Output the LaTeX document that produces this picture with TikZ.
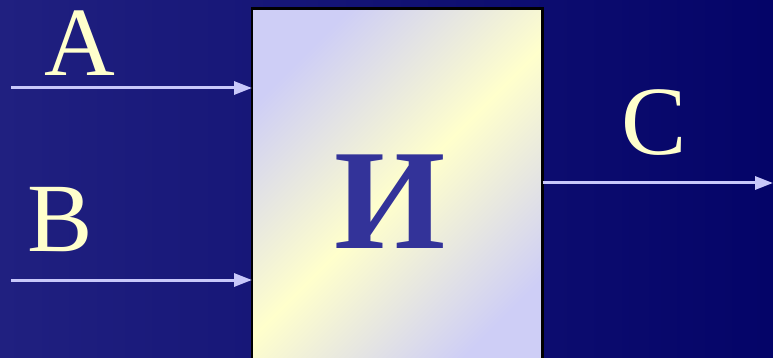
\documentclass[tikz,border=0pt]{standalone}
\usepackage{fontspec}
\setmainfont{Liberation Serif}
\usetikzlibrary{arrows.meta}
\definecolor{bgl}{RGB}{32,32,128}
\definecolor{bgr}{RGB}{4,4,104}
\definecolor{lav}{RGB}{206,206,246}
\definecolor{pale}{RGB}{255,255,204}
\definecolor{ink}{RGB}{51,51,153}
\definecolor{wire}{RGB}{200,200,250}
\pgfdeclarehorizontalshading{gateshade}{100bp}{%
  color(0bp)=(lav); color(25bp)=(lav); color(50bp)=(pale); color(75bp)=(lav); color(100bp)=(lav)}
\tikzset{
  lbl/.style={text=pale, inner sep=0pt, anchor=base, font=\fontsize{98}{100}\selectfont},
  wirearrow/.style={draw=wire, line width=3pt, -{Triangle[length=18pt,width=13pt]}},
  gatebox/.style={draw=black, line width=2.5pt, anchor=north west, minimum width=288pt, minimum height=365pt, inner sep=0pt}
}
\begin{document}
\begin{tikzpicture}[x=1pt,y=-1pt]
\useasboundingbox (0,0) rectangle (773,358);
\clip (0,0) rectangle (773,358);
\shade[left color=bgl, right color=bgr] (0,0) rectangle (773,358);
\node[gatebox] (box) at (252,8.5) {};
\shade[shading=gateshade, shading angle=-45] (box.north west) rectangle (box.south east);
\draw[black, line width=2.5pt] (box.north west) rectangle (box.south east);
\node[inner sep=0pt, anchor=base, text=ink, font=\fontsize{143}{150}\selectfont\bfseries] (gate) at (390,248) {И};
\node[lbl] (la) at (80,76) {A};
\node[lbl] (lb) at (60,251) {B};
\node[lbl] (lc) at (654,155) {C};
\coordinate (ina) at (11,88);
\coordinate (inb) at (11,280);
\coordinate (outc) at (773,183);
\draw[wirearrow] (ina) -- (box.west |- ina);
\draw[wirearrow] (inb) -- (box.west |- inb);
\draw[wirearrow] (box.east |- outc) -- (outc);
\end{tikzpicture}
\end{document}
